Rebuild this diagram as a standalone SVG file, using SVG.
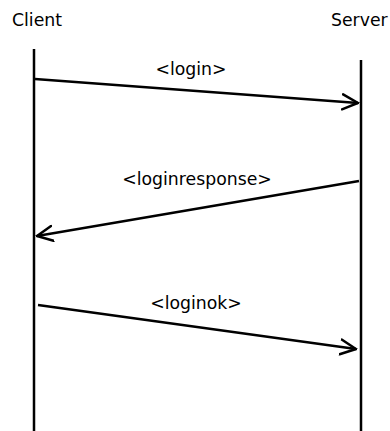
<svg xmlns="http://www.w3.org/2000/svg" width="390" height="431" viewBox="0 0 390 431">
  <style>
    text { font-family: "DejaVu Sans", sans-serif; font-size: 17.3px; fill: #000; }
    .life { stroke: #000; stroke-width: 2.5; fill: none; }
    .msg { stroke: #000; stroke-width: 2.5; fill: none; marker-end: url(#head); }
  </style>
  <defs>
    <marker id="head" viewBox="0 0 18 18" refX="16.5" refY="9" markerWidth="18" markerHeight="18" markerUnits="userSpaceOnUse" orient="auto">
      <path d="M1,1.5 L16.5,9 L1,16.5" fill="none" stroke="#000" stroke-width="2.5" stroke-linecap="round"/>
    </marker>
  </defs>
  <rect width="390" height="431" fill="#fff"/>
  <g id="client">
    <text x="12" y="26">Client</text>
    <line class="life" x1="34" y1="49" x2="34" y2="431"/>
  </g>
  <g id="server">
    <text x="331" y="26">Server</text>
    <line class="life" x1="361" y1="60" x2="361" y2="431"/>
  </g>
  <g id="connectors">
    <line class="msg" x1="35" y1="79" x2="358" y2="103"/>
    <text x="191" y="75" text-anchor="middle">&lt;login&gt;</text>
    <line class="msg" x1="359" y1="181" x2="37" y2="236"/>
    <text x="197" y="185" text-anchor="middle">&lt;loginresponse&gt;</text>
    <line class="msg" x1="38" y1="305" x2="356" y2="349"/>
    <text x="196" y="309" text-anchor="middle">&lt;loginok&gt;</text>
  </g>
</svg>
